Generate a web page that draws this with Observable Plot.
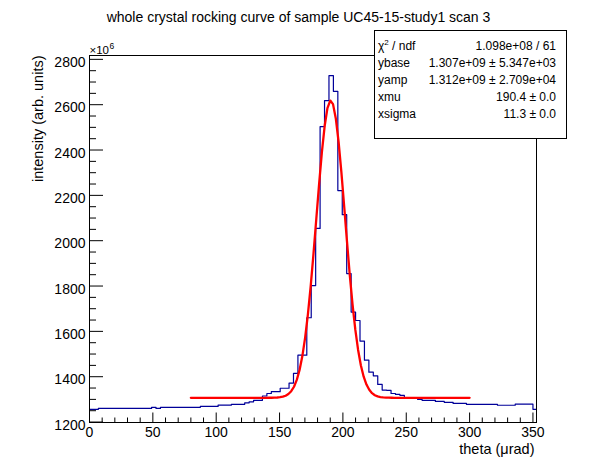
<!DOCTYPE html>
<html><head><meta charset="utf-8">
<script src="https://cdn.jsdelivr.net/npm/d3@7"></script>
<script src="https://cdn.jsdelivr.net/npm/@observablehq/plot@0.6"></script>
<style>
body{margin:0;background:#fff;}
#wrap{position:relative;width:596px;height:472px;background:#fff;font-family:"Liberation Sans",Arial,Helvetica,sans-serif;}
#wrap svg{position:absolute;left:0;top:0;}
#stats{position:absolute;left:374px;top:30px;width:193px;height:109px;border:1px solid #000;background:#fff;font-size:12px;box-sizing:border-box;color:#000;}
.row{position:absolute;left:3px;right:10px;height:14px;line-height:14px;display:flex;justify-content:space-between;white-space:nowrap;}
.row sup{font-size:8px;line-height:0;vertical-align:5px;}
</style></head>
<body><div id="wrap"><div id="stats"></div></div>
<script>
// ---- data ----
const titleText = "whole crystal rocking curve of sample UC45-15-study1 scan 3";
const xTitle = "theta (\u03bcrad)";
const yTitle = "intensity (arb. units)";
const binWidth = 3.5; // bin width in theta (µrad), bins start at 0
// bin contents, in units of 1e6
const counts = [
  1256, 1256,
  1260, 1260, 1260, 1260, 1260, 1260, 1260, 1260, 1260, 1260, 1260, 1260,
  1265, 1260,
  1265, 1265, 1265, 1265, 1265, 1265, 1265, 1265, 1265,
  1269, 1269, 1269, 1269,
  1275, 1275, 1275,
  1278, 1278, 1278,
  1285, 1289, 1296, 1296, 1315, 1326, 1334, 1334, 1349, 1349,
  1372, 1415, 1495, 1495, 1660, 1802, 2054, 2503, 2618, 2728,
  2659, 2221, 2115, 1855, 1685, 1648, 1557, 1473, 1420, 1404,
  1366, 1341, 1340, 1326, 1322, 1318,
  1307, 1307, 1307,
  1300,
  1296, 1296, 1296,
  1291, 1291,
  1287, 1287,
  1282, 1282, 1282,
  1278, 1278, 1278, 1278, 1278, 1278, 1278,
  1274, 1274, 1274, 1274,
  1279, 1279, 1279, 1279,
  1256
];
// fit parameters (gaussian + base), y in units of 1e6
const ybase = 1307, yamp = 1312, xmu = 190.4, xsigma = 11.3;
const fitRange = [80, 300];
const statsLabels = ["\u03c7<sup>2</sup> / ndf", "ybase", "yamp", "xmu", "xsigma"];
const statsValues = ["1.098e+08 / 61", "1.307e+09 \u00b1 5.347e+03", "1.312e+09 \u00b1 2.709e+04", "190.4 \u00b1 0.0", "11.3 \u00b1 0.0"];
const xMajor = [0, 50, 100, 150, 200, 250, 300, 350];
const yMajor = [1200, 1400, 1600, 1800, 2000, 2200, 2400, 2600, 2800];
const xDomain = [0, 352.8];
const yDomain = [1198, 2817];

// ---- derived tables ----
const hist = counts.map((v, i) => ({x: i * binWidth, y: v}));
hist.push({x: counts.length * binWidth, y: counts[counts.length - 1]});
const nFit = 100;
const fit = d3.range(nFit + 1).map(k => {
  const x = fitRange[0] + k * (fitRange[1] - fitRange[0]) / nFit;
  return {x, y: ybase + yamp * Math.exp(-0.5 * ((x - xmu) / xsigma) ** 2)};
});
const xMinor = d3.range(0, xDomain[1], 10).filter(v => v % 50 !== 0);
const yMinor = d3.range(1250, yDomain[1], 50).filter(v => v % 200 !== 0);

const W = 596, H = 472, mL = 89, mR = 60, mT = 55, mB = 50;
const fw = W - mL - mR, fh = H - mT - mB;
const font = "'Liberation Sans', Arial, Helvetica, sans-serif";

const chart = Plot.plot({
  width: W, height: H,
  marginLeft: mL, marginRight: mR, marginTop: mT, marginBottom: mB,
  x: {domain: xDomain, label: null},
  y: {domain: yDomain, label: null},
  style: {fontFamily: font, fontSize: "14px", color: "black", background: "white", overflow: "visible"},
  marks: [
    Plot.line(hist, {x: "x", y: "y", curve: "step-after", stroke: "#000099", strokeWidth: 1.2, clip: true}),
    Plot.line(fit, {x: "x", y: "y", stroke: "#ff0000", strokeWidth: 2.3}),
    Plot.ruleX(xMajor, {x: d => d, insetTop: fh - 9.5, stroke: "black"}),
    Plot.ruleX(xMinor, {x: d => d, insetTop: fh - 4.5, stroke: "black"}),
    Plot.ruleY(yMajor, {y: d => d, insetRight: fw - 14, stroke: "black"}),
    Plot.ruleY(yMinor, {y: d => d, insetRight: fw - 7, stroke: "black"}),
    Plot.frame({stroke: "black"}),
    Plot.axisX({ticks: xMajor, tickSize: 0, tickPadding: 5, tickFormat: d => String(d), fontSize: 14, label: null}),
    Plot.axisY({ticks: yMajor, tickSize: 0, tickPadding: 4, dy: 3, tickFormat: d => String(d), fontSize: 14, label: null}),
    Plot.text([titleText], {frameAnchor: "top", dx: W / 2 - (mL + fw / 2), dy: 21 - mT, lineAnchor: "bottom", fontSize: 14}),
    Plot.text([xTitle], {frameAnchor: "bottom-right", textAnchor: "end", lineAnchor: "bottom", dx: -2, dy: 31, fontSize: 14.5}),
    Plot.text([yTitle], {frameAnchor: "top-left", textAnchor: "end", rotate: -90, dx: -57, fontSize: 14.5}),
    Plot.text(["\u00d710"], {frameAnchor: "top-left", textAnchor: "start", lineAnchor: "bottom", dy: -2, fontSize: 11.5}),
    Plot.text(["6"], {frameAnchor: "top-left", textAnchor: "start", lineAnchor: "bottom", dx: 20, dy: -7, fontSize: 8.5})
  ]
});
const wrap = document.getElementById("wrap");
wrap.insertBefore(chart, wrap.firstChild);

const stats = document.getElementById("stats");
statsLabels.forEach((lab, i) => {
  const r = document.createElement("div");
  r.className = "row";
  r.style.top = (8 + 17 * i) + "px";
  r.innerHTML = `<span>${lab}</span><span>${statsValues[i]}</span>`;
  stats.appendChild(r);
});
</script>
</body></html>
